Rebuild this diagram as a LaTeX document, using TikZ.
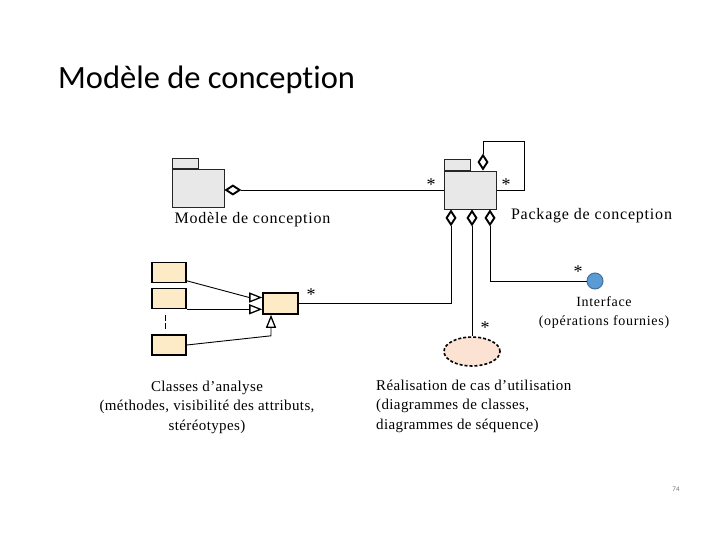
\documentclass[tikz,border=0pt]{standalone}
\usepackage{fontspec}
\setmainfont{Liberation Serif}
\newfontfamily\titlefont{Carlito}[Ligatures=NoCommon]
\newfontfamily\diagfont{Liberation Serif}
\usetikzlibrary{arrows.meta,shapes.geometric}
\definecolor{pkgfill}{HTML}{E8E8E8}
\definecolor{clsfill}{HTML}{FCEBC6}
\definecolor{ucfill}{HTML}{FBE2D2}
\definecolor{iffill}{HTML}{5B9BD5}
\definecolor{ifdraw}{HTML}{41719C}
\begin{document}
\begin{tikzpicture}[x=1pt,y=-1pt,
  pkg/.style={draw=black!85, fill=pkgfill, line width=0.8pt, minimum width=52pt, minimum height=38pt, inner sep=0pt},
  pkgtab/.style={draw=black!85, fill=pkgfill, line width=0.8pt, minimum width=26pt, minimum height=10.5pt, inner sep=0pt},
  cls/.style={draw, fill=clsfill, line width=1.6pt, minimum width=34pt, minimum height=20pt, inner sep=0pt},
  conn/.style={line width=0.9pt},
  agg/.style={conn, -{Diamond[open, fill=white, length=17pt, width=11pt, line width=1.9pt]}},
  gen/.style={conn, -{Triangle[open, fill=white, length=13pt, width=10pt, line width=1.3pt]}},
  star/.style={font=\diagfont\fontsize{18}{18}\selectfont, inner sep=0pt},
  pkglbl/.style={font=\diagfont\fontsize{16}{18}\selectfont\addfontfeature{LetterSpace=5}, inner sep=0pt},
  desc/.style={font=\diagfont\fontsize{15}{19.5}\selectfont\addfontfeature{LetterSpace=2.5}, inner sep=0pt},
  iflbl/.style={font=\diagfont\fontsize{14}{19}\selectfont\addfontfeature{LetterSpace=5}, inner sep=0pt, align=center}
]
\useasboundingbox (0,0) rectangle (720,540);

% title
\node[font=\titlefont\fontsize{32.5}{34}\selectfont, anchor=base west, inner sep=0pt] (title) at (58,89) {Modèle de conception};

% packages
\node[pkg] (lpkg) at (198,188.5) {};
\node[pkgtab, anchor=south west] (ltab) at (lpkg.north west) {};
\node[pkg] (rpkg) at (470.5,190) {};
\node[pkgtab, anchor=south west] (rtab) at (rpkg.north west) {};

\node[pkglbl, anchor=base] (llbl) at (252.5,224) {Modèle de conception};
\node[pkglbl, anchor=base] (rlbl) at (591.5,220) {Package de conception};

% aggregation left package
\draw[agg] (rpkg.west) -- (rpkg.west -| lpkg.east);

% self loop
\coordinate (loop) at (524,141);
\coordinate (rtop) at ([xshift=12.5pt]rpkg.north);
\draw[agg] (rpkg.east) -| (loop) -| (rtop);

% bottom diamonds
\coordinate (d1) at ([xshift=-19.5pt]rpkg.south);
\coordinate (d2) at ([xshift=1.5pt]rpkg.south);
\coordinate (d3) at ([xshift=19.5pt]rpkg.south);

% classes
\node[cls] (c1) at (169,272.5) {};
\node[cls] (c2) at (169,298.5) {};
\node[cls] (c3) at (169,345) {};
\node[cls, minimum width=35pt, minimum height=21pt] (ca) at (280.5,303.5) {};
\draw[line width=0.6pt, dash pattern=on 6pt off 2pt] (165,315) -- (165,329);

\coordinate (t1) at ([yshift=6pt]ca.west);
\draw[gen] ([yshift=2.5pt]c1.south east) -- ([xshift=-13pt]t1) -- (t1);
\draw[gen] (c2.south east) -- (c2.south east -| ca.west);
\coordinate (t3) at ([xshift=-9.5pt]ca.south);
\draw[gen] (c3.east) -- ([yshift=-21pt]t3) -- (t3);

\draw[agg] (ca.east) -| (d1);

% use case realisation
\node[ellipse, draw, dashed, dash pattern=on 3pt off 2pt, line width=1.6pt, fill=ucfill, minimum width=56pt, minimum height=29pt, inner sep=0pt] (uc) at (472,351.5) {};
\draw[agg] (uc.north) -- (d2);

% interface
\node[circle, draw=ifdraw, line width=1pt, fill=iffill, minimum size=16pt, inner sep=0pt] (if) at (595,281) {};
\draw[agg] (if.west) -| (d3);

% multiplicities
\node[star] (s1) at (431,185) {*};
\node[star] (s2) at (506,185) {*};
\node[star] (s3) at (578,272) {*};
\node[star] (s4) at (311,295) {*};
\node[star] (s5) at (485,328) {*};

% labels
\node[iflbl] (iftxt) at (604,313) {Interface\\(opérations fournies)};
\node[desc, align=center] (clsdesc) at (207,407) {Classes d’analyse\\(méthodes, visibilité des attributs,\\stéréotypes)};
\node[desc, align=left, anchor=west] (ucdesc) at (376,406) {Réalisation de cas d’utilisation\\(diagrammes de classes,\\diagrammes de séquence)};

% page number
\node[font=\titlefont\fontsize{7}{8}\selectfont, text=black!55, inner sep=0pt] (pg) at (676,489) {74};
\end{tikzpicture}
\end{document}
